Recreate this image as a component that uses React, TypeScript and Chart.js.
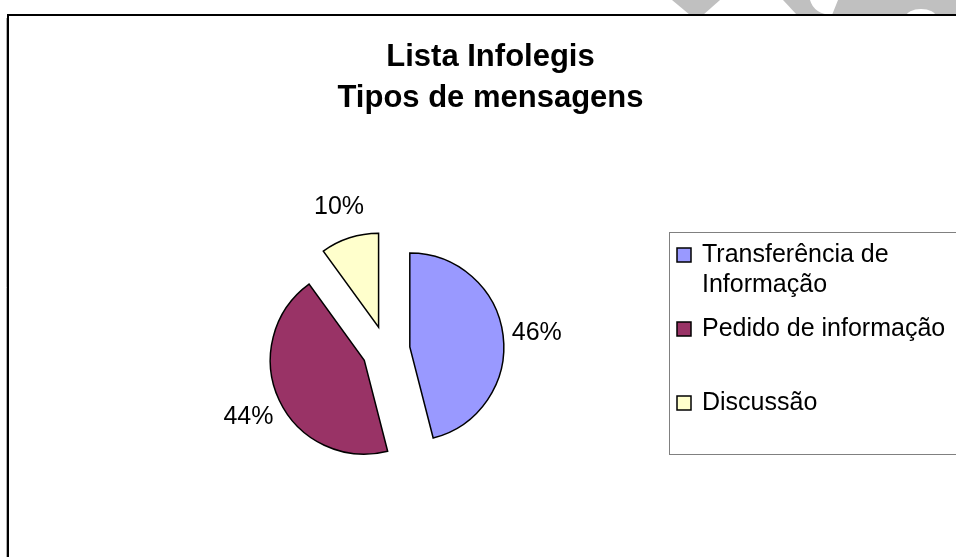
import React, { useEffect, useRef } from "react";
import { Chart, registerables } from "chart.js";

Chart.register(...registerables);

const TITLE_LINES = ["Lista Infolegis", "Tipos de mensagens"];
const CATEGORIES = ["Transferência de Informação", "Pedido de informação", "Discussão"];
const VALUES = [46, 44, 10];
const COLORS = ["#9999FF", "#993366", "#FFFFCC"];
const LABELS = ["46%", "44%", "10%"];

const FONT = '"Liberation Sans", Arial, sans-serif';
const EXPLODE = 24;

function wrapText(ctx: CanvasRenderingContext2D, text: string, maxW: number): string[] {
  const words = text.split(" ");
  const lines: string[] = [];
  let cur = "";
  for (const w of words) {
    const t = cur ? cur + " " + w : w;
    if (ctx.measureText(t).width > maxW && cur) {
      lines.push(cur);
      cur = w;
    } else cur = t;
  }
  if (cur) lines.push(cur);
  return lines;
}

const decorPlugin = {
  id: "decor",
  beforeDraw(chart: any) {
    const ctx: CanvasRenderingContext2D = chart.ctx;
    const W = chart.width;
    const H = chart.height;
    ctx.save();
    ctx.fillStyle = "#ffffff";
    ctx.fillRect(0, 0, W, H);
    // watermark fragments above frame
    ctx.fillStyle = "#c0c0c0";
    ctx.beginPath();
    ctx.moveTo(672, 0);
    ctx.lineTo(720, 0);
    ctx.lineTo(703, 15);
    ctx.lineTo(690, 15);
    ctx.closePath();
    ctx.fill();
    ctx.beginPath();
    ctx.moveTo(783, 0);
    ctx.lineTo(W, 0);
    ctx.lineTo(W, 15);
    ctx.lineTo(797, 15);
    ctx.closePath();
    ctx.fill();
    ctx.fillStyle = "#ffffff";
    ctx.beginPath();
    ctx.moveTo(810, 0);
    ctx.quadraticCurveTo(814, 14, 832, 15);
    ctx.lineTo(838, 0);
    ctx.closePath();
    ctx.fill();
    ctx.beginPath();
    ctx.ellipse(921, 17, 15, 8, 0, 0, Math.PI * 2);
    ctx.fill();
    // frame
    ctx.fillStyle = "#ffffff";
    ctx.fillRect(9, 16, W, H);
    ctx.strokeStyle = "#b0b0b0";
    ctx.lineWidth = 1;
    ctx.beginPath();
    ctx.moveTo(6.5, 18);
    ctx.lineTo(6.5, H);
    ctx.stroke();
    ctx.strokeStyle = "#000000";
    ctx.lineWidth = 2;
    ctx.beginPath();
    ctx.moveTo(8, H + 5);
    ctx.lineTo(8, 15);
    ctx.lineTo(W + 5, 15);
    ctx.stroke();
    // title
    ctx.fillStyle = "#000000";
    ctx.font = `bold 31px ${FONT}`;
    ctx.textAlign = "center";
    ctx.textBaseline = "alphabetic";
    TITLE_LINES.forEach((t, i) => ctx.fillText(t, 490.5, 66 + i * 41));
    ctx.restore();
  },
  beforeDatasetDraw(chart: any, args: any) {
    const ctx: CanvasRenderingContext2D = chart.ctx;
    const meta = chart.getDatasetMeta(args.index);
    meta.data.forEach((el: any) => {
      const mid = (el.startAngle + el.endAngle) / 2;
      ctx.save();
      ctx.translate(Math.cos(mid) * EXPLODE, Math.sin(mid) * EXPLODE);
      el.draw(ctx);
      ctx.restore();
    });
    return false;
  },
  afterDatasetsDraw(chart: any) {
    const ctx: CanvasRenderingContext2D = chart.ctx;
    const meta = chart.getDatasetMeta(0);
    ctx.save();
    // data labels
    ctx.fillStyle = "#000000";
    ctx.font = `25px ${FONT}`;
    ctx.textAlign = "center";
    ctx.textBaseline = "alphabetic";
    meta.data.forEach((el: any, i: number) => {
      const mid = (el.startAngle + el.endAngle) / 2;
      const cx = el.x + Math.cos(mid) * EXPLODE;
      const cy = el.y + Math.sin(mid) * EXPLODE;
      const d = el.outerRadius + 34;
      const lx = cx + Math.cos(mid) * d;
      const ly = cy + Math.sin(mid) * d;
      ctx.fillText(LABELS[i], lx, ly + 9);
    });
    // legend
    const top = 232;
    const bottom = 454;
    const left = 669;
    ctx.strokeStyle = "#808080";
    ctx.lineWidth = 1;
    ctx.strokeRect(left + 0.5, top + 0.5, 400, bottom - top);
    const labels: string[] = chart.data.labels;
    const colors: string[] = chart.data.datasets[0].backgroundColor;
    const slot = (bottom - top) / labels.length;
    ctx.textAlign = "left";
    ctx.font = `25px ${FONT}`;
    labels.forEach((lab, i) => {
      const base = top + slot * i + 30;
      ctx.fillStyle = colors[i];
      ctx.fillRect(677, base - 14, 14, 14);
      ctx.strokeStyle = "#000000";
      ctx.lineWidth = 1.5;
      ctx.strokeRect(677, base - 14, 14, 14);
      ctx.fillStyle = "#000000";
      const lines = wrapText(ctx, lab, 252);
      lines.forEach((ln, j) => ctx.fillText(ln, 702, base + j * 30));
    });
    ctx.restore();
  },
};

export default function App() {
  const ref = useRef<HTMLCanvasElement | null>(null);
  useEffect(() => {
    document.body.style.margin = "0";
    const chart = new Chart(ref.current as HTMLCanvasElement, {
      type: "pie",
      data: {
        labels: CATEGORIES,
        datasets: [
          {
            data: VALUES,
            backgroundColor: COLORS,
            borderColor: "#000000",
            borderWidth: 1.5,
            borderJoinStyle: "miter",
          } as any,
        ],
      },
      options: {
        animation: false,
        responsive: true,
        maintainAspectRatio: false,
        radius: 94,
        events: [],
        layout: { padding: { left: 236, right: 420, top: 200, bottom: 57 } },
        plugins: {
          legend: { display: false },
          title: { display: false },
          tooltip: { enabled: false },
        },
      } as any,
      plugins: [decorPlugin as any],
    });
    return () => chart.destroy();
  }, []);
  return (
    <div style={{ position: "fixed", left: 0, top: 0, width: 956, height: 557 }}>
      <canvas ref={ref} />
    </div>
  );
}
